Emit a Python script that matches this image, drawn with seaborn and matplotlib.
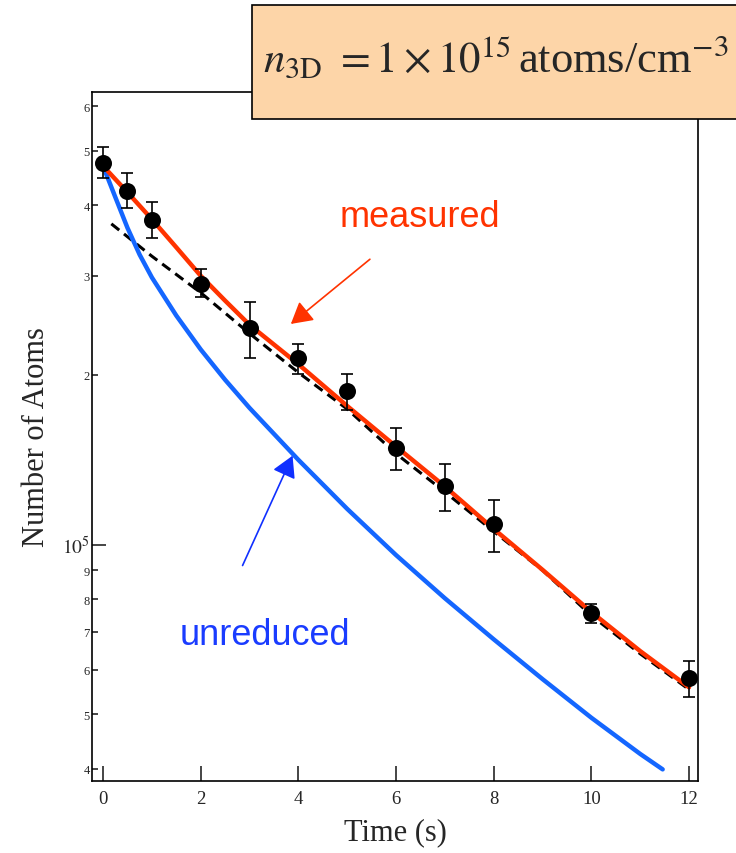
import numpy as np
import seaborn as sns
import matplotlib.pyplot as plt
from matplotlib.patches import Rectangle
from matplotlib.ticker import FixedLocator, FixedFormatter

# measured points with error bars
t_pts = [0, 0.5, 1, 2, 3, 4, 5, 6, 7, 8, 10, 12]
n_pts = [4.75e5, 4.25e5, 3.77e5, 2.90e5, 2.42e5, 2.14e5, 1.876e5, 1.483e5, 1.273e5, 1.088e5, 0.7555e5, 0.579e5]
n_hi = [5.07e5, 4.57e5, 4.05e5, 3.08e5, 2.69e5, 2.27e5, 2.01e5, 1.609e5, 1.39e5, 1.202e5, 0.785e5, 0.6225e5]
n_lo = [4.47e5, 3.95e5, 3.50e5, 2.75e5, 2.14e5, 2.01e5, 1.73e5, 1.359e5, 1.148e5, 0.972e5, 0.726e5, 0.5354e5]

# "measured" model curve (red)
red_t = [0, 0.5, 1, 1.5, 2, 2.5, 3, 3.5, 4, 5, 6, 7, 8, 9, 10, 11, 12]
red_n = [4.70e5, 4.22e5, 3.78e5, 3.37e5, 3.00e5, 2.71e5, 2.455e5, 2.265e5, 2.09e5, 1.762e5, 1.493e5,
         1.268e5, 1.066e5, 0.902e5, 0.759e5, 0.647e5, 0.558e5]

# "unreduced" curve (blue)
blue_t = [0, 0.25, 0.5, 0.75, 1, 1.5, 2, 2.5, 3, 4, 5, 6, 7, 8, 9, 10, 11, 11.46]
blue_n = [4.70e5, 4.14e5, 3.65e5, 3.27e5, 2.98e5, 2.55e5, 2.22e5, 1.961e5, 1.748e5, 1.414e5, 1.157e5,
          0.958e5, 0.803e5, 0.679e5, 0.577e5, 0.4927e5, 0.425e5, 0.399e5]

# dashed fit
dash_t = [0.17, 1, 2, 3, 4, 5, 6, 7, 8, 9, 10, 11, 12]
dash_n = [3.71e5, 3.25e5, 2.80e5, 2.37e5, 2.02e5, 1.74e5, 1.45e5, 1.24e5, 1.055e5, 0.900e5, 0.748e5,
          0.64e5, 0.553e5]

x_ticks = [0, 2, 4, 6, 8, 10, 12]
y_minor = [4e4, 5e4, 6e4, 7e4, 8e4, 9e4, 2e5, 3e5, 4e5, 5e5, 6e5]
y_minor_labels = ['4', '5', '6', '7', '8', '9', '2', '3', '4', '5', '6']

sns.set_style('ticks')
plt.rcParams['font.family'] = ['Liberation Serif', 'DejaVu Serif']
plt.rcParams['mathtext.fontset'] = 'stix'

RED = '#ff3300'
BLUE = '#1466ff'

fig = plt.figure(figsize=(7.36, 8.54), dpi=100)
ax = fig.add_axes([0.1254, 0.0847, 0.8234, 0.806])

sns.lineplot(x=dash_t, y=dash_n, ax=ax, color='black', lw=2.2, linestyle=(0, (3.3, 2)), zorder=2)
sns.lineplot(x=blue_t, y=blue_n, ax=ax, color=BLUE, lw=3.2, zorder=3)
sns.lineplot(x=red_t, y=red_n, ax=ax, color=RED, lw=3.2, zorder=3)

yerr = [np.array(n_pts) - np.array(n_lo), np.array(n_hi) - np.array(n_pts)]
ax.errorbar(t_pts, n_pts, yerr=yerr, fmt='none', ecolor='black', elinewidth=1.2,
            capsize=4.5, capthick=1.2, zorder=4)
sns.scatterplot(x=t_pts, y=n_pts, ax=ax, color='black', s=150, linewidth=0, zorder=5)

ax.set_yscale('log')
ax.set_xlim(-0.22, 12.19)
ax.set_ylim(3.81e4, 6.35e5)

ax.xaxis.set_major_locator(FixedLocator(x_ticks))
ax.xaxis.set_minor_locator(FixedLocator([]))
ax.yaxis.set_major_locator(FixedLocator([1e5]))
ax.yaxis.set_major_formatter(FixedFormatter([r'$10^5$']))
ax.yaxis.set_minor_locator(FixedLocator(y_minor))
ax.yaxis.set_minor_formatter(FixedFormatter(y_minor_labels))

ax.tick_params(axis='y', which='major', direction='in', length=10, width=1.2, labelsize=14, pad=2, right=False)
ax.tick_params(axis='y', which='minor', direction='in', length=4.3, width=1.2, labelsize=9, pad=2, right=False)
ax.tick_params(axis='x', which='major', direction='in', length=10.5, width=1.2, labelsize=13.5, pad=7, top=False)
for s in ax.spines.values():
    s.set_linewidth(1.2)
    s.set_color('black')

ax.set_xlabel('Time (s)', fontsize=22)
ax.set_ylabel('Number of Atoms', fontsize=22)
ax.xaxis.set_label_coords(0.5, -0.053)
ax.yaxis.set_label_coords(-0.068, 0.5)

# annotations
ax.text(6.49, 3.68e5, 'measured', color=RED, fontsize=26, family='Liberation Sans',
        ha='center', va='baseline')
ax.annotate('', xy=(3.846, 2.464e5), xytext=(5.465, 3.21e5),
            arrowprops=dict(arrowstyle='-|>,head_length=0.65,head_width=0.37', mutation_scale=20,
                            lw=1.2, color=RED, shrinkA=0, shrinkB=0))
ax.text(1.574, 0.6665e5, 'unreduced', color='#1a3cff', fontsize=26, family='Liberation Sans',
        ha='left', va='baseline')
ax.annotate('', xy=(3.881, 1.438e5), xytext=(2.857, 0.918e5),
            arrowprops=dict(arrowstyle='-|>,head_length=0.65,head_width=0.37', mutation_scale=20,
                            lw=1.2, color='#1030ff', shrinkA=0, shrinkB=0))

# density box at top
fig.add_artist(Rectangle((252 / 736, 1 - 120 / 854), 0.8, 114 / 854, transform=fig.transFigure,
                         facecolor='#fdd5a8', edgecolor='black', lw=1.2, zorder=5))
fig.text(263 / 736, 1 - 72 / 854, r'$n_{\mathrm{3D}}$ $=1\times10^{15}$',
         fontsize=31, ha='left', va='baseline', zorder=6)
fig.text(518 / 736, 1 - 72 / 854, r'atoms/cm$^{-3}$',
         fontsize=32, ha='left', va='baseline', zorder=6)

fig.savefig('out.png', dpi=100)
